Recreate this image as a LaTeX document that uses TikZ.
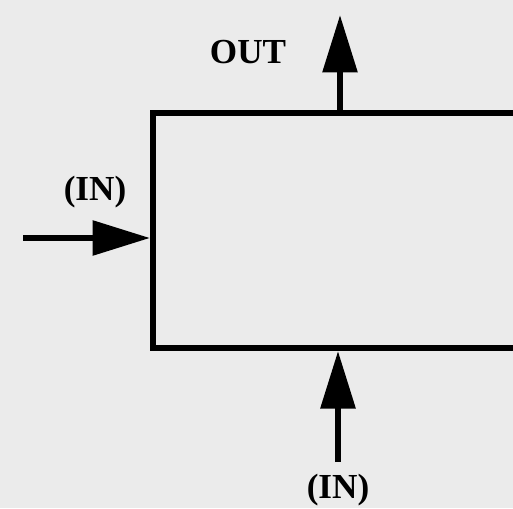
\documentclass[tikz,border=0pt]{standalone}
\usepackage{fontspec}
\setmainfont{Liberation Serif}
\usepackage{xcolor}
\usetikzlibrary{arrows.meta,positioning,calc}
\definecolor{paper}{HTML}{EBEBEB}
\begin{document}
\begin{tikzpicture}[
    blockbox/.style={rectangle, draw, line width=0.12cm, minimum width=8.94cm, minimum height=4.7cm, inner sep=0pt},
    arr/.style={-{Triangle[length=1.15cm, width=0.68cm]}, line width=0.12cm},
    lbl/.style={font=\fontsize{20}{24}\selectfont\bfseries, inner sep=0pt},
]
% Paper and frame
\fill[paper] (0,0) rectangle (10.26,10.16);
\useasboundingbox (0,0) rectangle (10.26,10.16);
\clip (0,0) rectangle (10.26,10.16);
% Nodes
\node[blockbox] (block) at (7.53, 5.55) {};
\coordinate (outtip) at (6.8, 9.86);
\coordinate (leftin) at (0.46, 5.4);
\coordinate (botin)  at (6.76, 0.92);
\node[lbl] (outlbl)  at (4.96, 9.12) {OUT};
\node[lbl] (leftlbl) at (1.9, 6.32)  {(IN)};
\node[lbl] (botlbl)  at (6.76, 0.36) {(IN)};
% Connections
\draw[arr] (outtip |- block.north) -- (outtip);
\draw[arr] (leftin) -- (leftin -| block.west);
\draw[arr] (botin) -- (botin |- block.south);
\end{tikzpicture}
\end{document}
